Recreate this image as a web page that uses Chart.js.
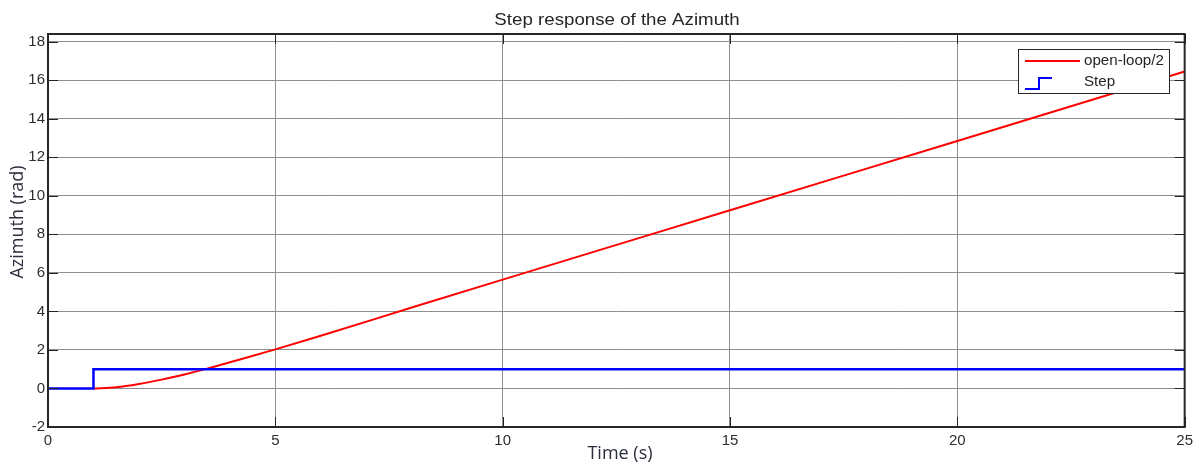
<!DOCTYPE html>
<html>
<head>
<meta charset="utf-8">
<script src="https://cdn.jsdelivr.net/npm/chart.js@4"></script>
<style>
    html, body { margin: 0; padding: 0; background: #fff; }
    #chart { display: block; }
</style>
</head>
<body>
<canvas id="chart" width="1198" height="463"></canvas>
<script>
// Datos
const timeOpenLoop = [1, 1.5, 2, 2.5, 3, 3.5, 4, 5, 6, 8, 10, 15, 20, 25];
const azimuthOpenLoop = [0, 0.06, 0.23, 0.46, 0.73, 1.03, 1.36, 2.03, 2.74, 4.2, 5.65, 9.25, 12.85, 16.45];
const timeStep = [0, 1, 1, 25];
const valueStep = [0, 0, 1, 1];
const xTicks = [0, 5, 10, 15, 20, 25];
const yTicks = [-2, 0, 2, 4, 6, 8, 10, 12, 14, 16, 18];
const seriesNames = ['open-loop/2', 'Step'];

const FONT = '"Liberation Sans", Arial, sans-serif';
const LABEL_FONT = '"Open Sans", "Liberation Sans", sans-serif';

function toPoints(xs, ys) {
    return xs.map((x, i) => ({ x: x, y: ys[i] }));
}

// Texto algo estirado en horizontal, como en la imagen original
function wideText(c, text, x, y, sx) {
    c.save();
    c.translate(x, y);
    c.scale(sx, 1);
    c.fillText(text, 0, 0);
    c.restore();
}

// Marco, marcas interiores, títulos y leyenda
const framePlugin = {
    id: 'frame',
    afterDraw(chart) {
        const c = chart.ctx;
        const a = chart.chartArea;
        const xs = chart.scales.x;
        const ys = chart.scales.y;
        c.save();

        // marcas hacia dentro
        c.strokeStyle = '#222';
        c.lineWidth = 1;
        c.beginPath();
        xTicks.forEach(v => {
            const px = Math.round(xs.getPixelForValue(v)) + 0.5;
            c.moveTo(px, a.bottom); c.lineTo(px, a.bottom - 10);
            c.moveTo(px, a.top); c.lineTo(px, a.top + 10);
        });
        yTicks.forEach(v => {
            const py = Math.round(ys.getPixelForValue(v)) + 0.5;
            c.moveTo(a.left, py); c.lineTo(a.left + 10, py);
            c.moveTo(a.right, py); c.lineTo(a.right - 10, py);
        });
        c.stroke();

        // caja
        c.strokeStyle = '#262626';
        c.lineWidth = 2;
        c.strokeRect(a.left, a.top, a.right - a.left, a.bottom - a.top);

        // títulos
        c.fillStyle = '#262626';
        c.textAlign = 'center';
        c.textBaseline = 'middle';
        c.font = '17px ' + FONT;
        wideText(c, 'Step response of the Azimuth', 617, 20, 1.1);
        c.fillStyle = '#2a2d3a';
        c.font = '18px ' + LABEL_FONT;
        c.fillText('Time (s)', 620, 454);
        c.translate(18, 222);
        c.rotate(-Math.PI / 2);
        c.fillText('Azimuth (rad)', 0, 0);
        c.setTransform(1, 0, 0, 1, 0, 0);

        // leyenda
        const lx = 1018, ly = 49, lw = 151, lh = 44;
        c.fillStyle = '#fff';
        c.fillRect(lx, ly, lw, lh);
        c.strokeStyle = '#262626';
        c.lineWidth = 1;
        c.strokeRect(lx + 0.5, ly + 0.5, lw, lh);

        c.lineWidth = 2;
        c.strokeStyle = '#ff0000';
        c.beginPath();
        c.moveTo(lx + 7, ly + 12); c.lineTo(lx + 62, ly + 12);
        c.stroke();

        c.strokeStyle = '#0000ff';
        c.beginPath();
        c.moveTo(lx + 7, ly + 40);
        c.lineTo(lx + 21, ly + 40);
        c.lineTo(lx + 21, ly + 29);
        c.lineTo(lx + 34, ly + 29);
        c.stroke();

        c.fillStyle = '#262626';
        c.font = '14px ' + FONT;
        c.textAlign = 'left';
        wideText(c, seriesNames[0], lx + 66, ly + 12, 1.08);
        wideText(c, seriesNames[1], lx + 66, ly + 33, 1.08);

        c.restore();
    }
};

new Chart(document.getElementById('chart'), {
    type: 'scatter',
    data: {
        datasets: [
            {
                label: seriesNames[0],
                data: toPoints(timeOpenLoop, azimuthOpenLoop),
                showLine: true,
                borderColor: '#ff0000',
                borderWidth: 2,
                pointRadius: 0,
                cubicInterpolationMode: 'monotone',
                order: 2
            },
            {
                label: seriesNames[1],
                data: toPoints(timeStep, valueStep),
                showLine: true,
                borderColor: '#0000ff',
                borderWidth: 2.5,
                pointRadius: 0,
                tension: 0,
                order: 1
            }
        ]
    },
    options: {
        responsive: false,
        animation: false,
        layout: { padding: { top: 34, right: 13, left: 0, bottom: 0 } },
        plugins: {
            legend: { display: false },
            title: { display: false },
            tooltip: { enabled: false }
        },
        scales: {
            x: {
                type: 'linear',
                min: 0,
                max: 25,
                afterBuildTicks: s => { s.ticks = xTicks.map(v => ({ value: v })); },
                afterFit: s => { s.height = 36; },
                grid: { color: '#8f8f8f', drawTicks: false },
                border: { display: false },
                ticks: {
                    padding: 5,
                    color: '#2e2e2e',
                    font: { family: FONT, size: 15 }
                }
            },
            y: {
                type: 'linear',
                min: -2,
                max: 18.4,
                afterBuildTicks: s => { s.ticks = yTicks.map(v => ({ value: v })); },
                afterFit: s => { s.width = 48; },
                grid: { color: '#8f8f8f', drawTicks: false },
                border: { display: false },
                ticks: {
                    padding: 3,
                    color: '#2e2e2e',
                    font: { family: FONT, size: 15 }
                }
            }
        }
    },
    plugins: [framePlugin]
});
</script>
</body>
</html>
